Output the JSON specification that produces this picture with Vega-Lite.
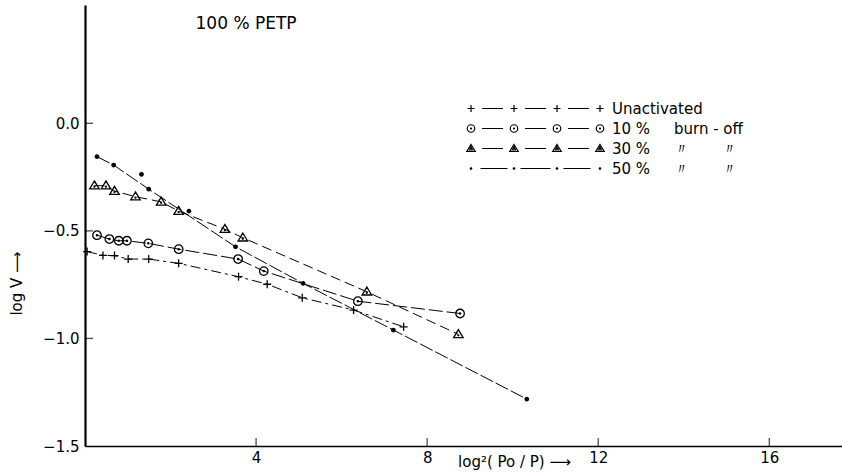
{
  "$schema": "https://vega.github.io/schema/vega-lite/v6.json",
  "width": 757,
  "height": 441,
  "autosize": {"type": "none"},
  "padding": {"left": 85, "top": 5, "right": 0, "bottom": 28},
  "background": "white",
  "config": {
    "view": {"stroke": null},
    "font": "DejaVu Sans",
    "axis": {
      "grid": false,
      "ticks": false,
      "domainColor": "black",
      "labelColor": "black",
      "titleColor": "black",
      "labelFont": "DejaVu Sans",
      "titleFont": "DejaVu Sans",
      "labelFontSize": 15,
      "titleFontSize": 15,
      "titleFontWeight": "normal"
    }
  },
  "datasets": {
    "points": [
      {"series": "Unactivated", "x": 0.05, "y": -0.596},
      {"series": "Unactivated", "x": 0.42, "y": -0.614},
      {"series": "Unactivated", "x": 0.69, "y": -0.615},
      {"series": "Unactivated", "x": 1.01, "y": -0.631},
      {"series": "Unactivated", "x": 1.49, "y": -0.631},
      {"series": "Unactivated", "x": 2.19, "y": -0.651},
      {"series": "Unactivated", "x": 3.59, "y": -0.713},
      {"series": "Unactivated", "x": 4.26, "y": -0.748},
      {"series": "Unactivated", "x": 5.08, "y": -0.811},
      {"series": "Unactivated", "x": 6.28, "y": -0.868},
      {"series": "Unactivated", "x": 7.45, "y": -0.946},
      {"series": "10 %", "x": 0.28, "y": -0.52},
      {"series": "10 %", "x": 0.57, "y": -0.538},
      {"series": "10 %", "x": 0.79, "y": -0.546},
      {"series": "10 %", "x": 0.98, "y": -0.546},
      {"series": "10 %", "x": 1.48, "y": -0.558},
      {"series": "10 %", "x": 2.19, "y": -0.585},
      {"series": "10 %", "x": 3.58, "y": -0.631},
      {"series": "10 %", "x": 4.18, "y": -0.687},
      {"series": "10 %", "x": 6.38, "y": -0.827},
      {"series": "10 %", "x": 8.77, "y": -0.884},
      {"series": "30 %", "x": 0.22, "y": -0.29},
      {"series": "30 %", "x": 0.49, "y": -0.29},
      {"series": "30 %", "x": 0.69, "y": -0.315},
      {"series": "30 %", "x": 1.18, "y": -0.341},
      {"series": "30 %", "x": 1.78, "y": -0.365},
      {"series": "30 %", "x": 2.19, "y": -0.408},
      {"series": "30 %", "x": 3.27, "y": -0.492},
      {"series": "30 %", "x": 3.69, "y": -0.532},
      {"series": "30 %", "x": 6.59, "y": -0.783},
      {"series": "30 %", "x": 8.73, "y": -0.981},
      {"series": "50 %", "x": 0.28, "y": -0.155},
      {"series": "50 %", "x": 0.67, "y": -0.194},
      {"series": "50 %", "x": 1.32, "y": -0.237, "onCurve": false},
      {"series": "50 %", "x": 1.49, "y": -0.306},
      {"series": "50 %", "x": 2.43, "y": -0.408, "onCurve": false},
      {"series": "50 %", "x": 3.52, "y": -0.574},
      {"series": "50 %", "x": 5.1, "y": -0.744},
      {"series": "50 %", "x": 7.21, "y": -0.961},
      {"series": "50 %", "x": 10.33, "y": -1.282}
    ],
    "xTicks": [{"x": 4}, {"x": 8}, {"x": 12}, {"x": 16}],
    "yTicks": [{"y": -1}, {"y": -0.5}, {"y": 0}],
    "note": [{"text": "100 % PETP", "x": 2.585, "y": 0.462}]
  },
  "layer": [
    {
      "data": {"name": "points"},
      "transform": [{"filter": "datum.onCurve !== false"}],
      "mark": {"type": "line", "color": "black", "strokeWidth": 1},
      "encoding": {
        "x": {
          "field": "x",
          "type": "quantitative",
          "scale": {"domain": [0, 17.7], "nice": false, "zero": false},
          "axis": {
            "values": [4, 8, 12, 16],
            "format": "d",
            "title": "log²( Po / P) ⟶",
            "titleX": 429,
            "titleY": 15,
            "titleAlign": "center",
            "titleBaseline": "middle",
            "labelPadding": 4,
            "domainWidth": 1.6
          }
        },
        "y": {
          "field": "y",
          "type": "quantitative",
          "scale": {"domain": [-1.5, 0.55], "nice": false, "zero": false},
          "axis": {
            "values": [-1.5, -1, -0.5, 0],
            "format": ".1f",
            "title": "log  V  ⟶",
            "titleX": -69,
            "titleY": 278,
            "titleAngle": 270,
            "titleAlign": "center",
            "titleBaseline": "middle",
            "labelPadding": 6,
            "domainWidth": 2.2
          }
        },
        "strokeDash": {
          "field": "series",
          "type": "nominal",
          "scale": {
            "domain": ["Unactivated", "10 %", "30 %", "50 %"],
            "range": [[10, 4, 3, 4], [14, 4], [10, 5], [14, 3]]
          },
          "legend": null
        }
      }
    },
    {
      "data": {"name": "xTicks"},
      "mark": {"type": "tick", "orient": "vertical", "color": "black", "size": 16, "thickness": 1.3, "clip": true},
      "encoding": {
        "x": {"field": "x", "type": "quantitative"},
        "y": {"datum": -1.5, "type": "quantitative"}
      }
    },
    {
      "data": {"name": "yTicks"},
      "mark": {"type": "tick", "orient": "horizontal", "color": "black", "size": 16, "thickness": 1.3, "clip": true},
      "encoding": {
        "x": {"datum": 0, "type": "quantitative"},
        "y": {"field": "y", "type": "quantitative"}
      }
    },
    {
      "data": {"name": "points"},
      "mark": {"type": "point", "filled": false, "color": "black", "size": 100, "strokeWidth": 1.3, "opacity": 1},
      "encoding": {
        "x": {"field": "x", "type": "quantitative"},
        "y": {"field": "y", "type": "quantitative"},
        "shape": {
          "field": "series",
          "type": "nominal",
          "scale": {
            "domain": ["Unactivated", "10 %", "30 %", "50 %"],
            "range": [
              "M-0.8,0H0.8M0,-0.8V0.8",
              "M-0.85,0A0.85,0.85 0 1,0 0.85,0A0.85,0.85 0 1,0 -0.85,0M-0.12,0A0.12,0.12 0 1,0 0.12,0A0.12,0.12 0 1,0 -0.12,0",
              "M0,-0.95L0.95,0.65L-0.95,0.65ZM-0.1,0.2A0.1,0.1 0 1,0 0.1,0.2A0.1,0.1 0 1,0 -0.1,0.2",
              "M-0.35,0A0.35,0.35 0 1,0 0.35,0A0.35,0.35 0 1,0 -0.35,0M-0.12,0A0.12,0.12 0 1,0 0.12,0A0.12,0.12 0 1,0 -0.12,0"
            ]
          },
          "legend": null
        }
      }
    },
    {
      "data": {"name": "points"},
      "transform": [{"filter": "false"}],
      "mark": {"type": "point", "filled": false, "color": "black", "size": 100, "strokeWidth": 1.2},
      "encoding": {
        "x": {"field": "x", "type": "quantitative"},
        "y": {"field": "y", "type": "quantitative"},
        "shape": {
          "field": "series",
          "type": "nominal",
          "scale": {
            "domain": ["Unactivated", "10 %", "30 %", "50 %"],
            "range": [
              "M-13.6,0H-12.2M-12.9,-0.7V0.7M-10.7,0H-6.5M-5,0H-3.6M-4.3,-0.7V0.7M-2.1,0H2.1M3.6,0H5M4.3,-0.7V0.7M6.5,0H10.7M12.2,0H13.6M12.9,-0.7V0.7",
              "M-13.65,0A0.75,0.75 0 1,0 -12.15,0A0.75,0.75 0 1,0 -13.65,0M-13,0A0.1,0.1 0 1,0 -12.8,0A0.1,0.1 0 1,0 -13,0M-5.05,0A0.75,0.75 0 1,0 -3.55,0A0.75,0.75 0 1,0 -5.05,0M-4.4,0A0.1,0.1 0 1,0 -4.2,0A0.1,0.1 0 1,0 -4.4,0M3.55,0A0.75,0.75 0 1,0 5.05,0A0.75,0.75 0 1,0 3.55,0M4.2,0A0.1,0.1 0 1,0 4.4,0A0.1,0.1 0 1,0 4.2,0M12.15,0A0.75,0.75 0 1,0 13.65,0A0.75,0.75 0 1,0 12.15,0M12.8,0A0.1,0.1 0 1,0 13,0A0.1,0.1 0 1,0 12.8,0M-10.7,0H-6.5M-2.1,0H2.1M6.5,0H10.7",
              "M-12.9,-0.8L-12.05,0.6L-13.75,0.6ZM-12.9,-0.3L-12.6,0.3L-13.2,0.3ZM-4.3,-0.8L-3.45,0.6L-5.15,0.6ZM-4.3,-0.3L-4,0.3L-4.6,0.3ZM4.3,-0.8L5.15,0.6L3.45,0.6ZM4.3,-0.3L4.6,0.3L4,0.3ZM12.9,-0.8L13.75,0.6L12.05,0.6ZM12.9,-0.3L13.2,0.3L12.6,0.3ZM-10.7,0H-6.5M-2.1,0H2.1M6.5,0H10.7",
              "M-13.05,0A0.15,0.15 0 1,0 -12.75,0A0.15,0.15 0 1,0 -13.05,0M-4.45,0A0.15,0.15 0 1,0 -4.15,0A0.15,0.15 0 1,0 -4.45,0M4.15,0A0.15,0.15 0 1,0 4.45,0A0.15,0.15 0 1,0 4.15,0M12.75,0A0.15,0.15 0 1,0 13.05,0A0.15,0.15 0 1,0 12.75,0M-11,0H-5.6M-3,0H3M5.6,0H11"
            ]
          },
          "legend": {
            "orient": "none",
            "legendX": 443,
            "legendY": 96,
            "title": null,
            "padding": 0,
            "symbolSize": 100,
            "symbolStrokeWidth": 1.2,
            "symbolStrokeColor": "black",
            "symbolFillColor": "transparent",
            "symbolOpacity": 1,
            "labelFontSize": 15,
            "labelColor": "black",
            "labelFont": "DejaVu Sans",
            "labelOffset": 69,
            "rowPadding": 4,
            "labelLimit": 300,
            "labelExpr": "datum.label == '10 %' ? '10 %\u00a0\u00a0\u00a0\u00a0\u00a0burn - off' : datum.label == '30 %' ? '30 %\u00a0\u00a0\u00a0\u00a0\u00a0\u3003\u00a0\u00a0\u00a0\u00a0\u00a0\u00a0\u00a0\u3003' : datum.label == '50 %' ? '50 %\u00a0\u00a0\u00a0\u00a0\u00a0\u3003\u00a0\u00a0\u00a0\u00a0\u00a0\u00a0\u00a0\u3003' : datum.label"
          }
        }
      }
    },
    {
      "data": {"name": "note"},
      "mark": {"type": "text", "align": "left", "baseline": "middle", "fontSize": 17, "font": "DejaVu Sans", "color": "black"},
      "encoding": {
        "x": {"field": "x", "type": "quantitative"},
        "y": {"field": "y", "type": "quantitative"},
        "text": {"field": "text"}
      }
    }
  ],
  "resolve": {
    "scale": {"shape": "independent", "strokeDash": "independent"},
    "legend": {"shape": "independent"}
  }
}
